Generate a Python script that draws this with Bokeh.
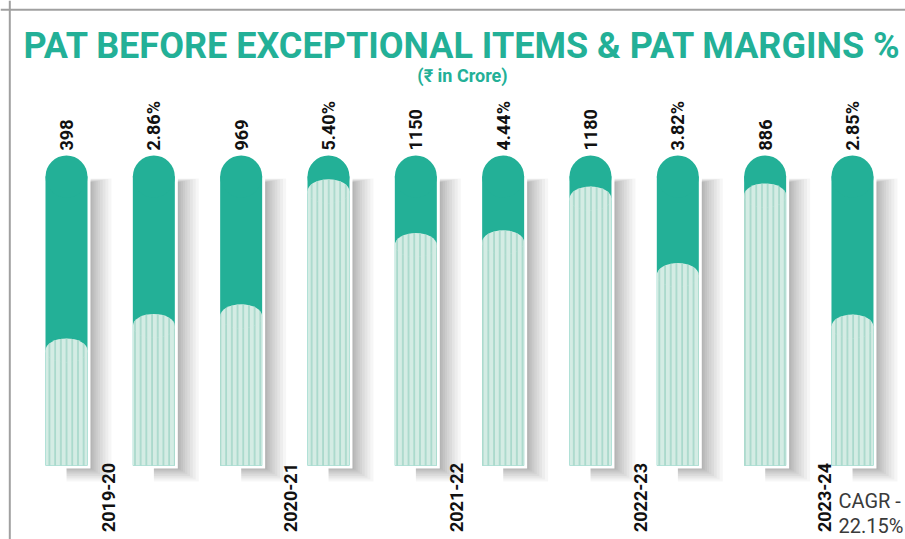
import numpy as np
from bokeh.plotting import figure
from bokeh.models import Range1d, Span
from bokeh.core.properties import value
from bokeh.embed import file_html
from bokeh.resources import INLINE

# ---------------- data ----------------
years = ["2019-20", "2020-21", "2021-22", "2022-23", "2023-24"]
pat_crore = [398, 969, 1150, 1180, 886]
pat_margin_pct = [2.86, 5.40, 4.44, 3.82, 2.85]
pat_fill_level = [41, 52, 75, 90, 91]      # fill of PAT pills (% of pill height), as drawn
margin_full_pill = 5.85                     # margin % that would fill a whole pill
cagr_pct = 22.15

# ---------------- style / layout ----------------
TEAL = "#23b097"
LIGHT = "#d4ece4"
STRIPE = "#a2d6c7"
W, H = 905, 539
OFF = 0              # page offset of the figure
PXX = 87.33          # px per pill slot
PXY = 3.1            # px per pill-height percent
X0 = -(66 - OFF) / PXX
Y0 = -(H - (465 - OFF)) / PXY

def xpx(page_x):
    return X0 + (page_x - OFF) / PXX

def ypx(page_y):
    return Y0 + (H - (page_y - OFF)) / PXY

p = figure(width=W, height=H, x_range=Range1d(X0, X0 + W / PXX),
           y_range=Range1d(Y0, Y0 + H / PXY), output_backend="svg",
           toolbar_location=None, min_border=0, x_axis_location=None,
           y_axis_location=None, outline_line_color=None)
p.grid.visible = False
p.background_fill_color = "white"
p.border_fill_color = "white"

# pill positions & levels from data
n = len(years)
xs = np.arange(2 * n, dtype=float)
levels = []
labels = []
for k in range(n):
    levels.append(pat_fill_level[k])
    levels.append(pat_margin_pct[k] / margin_full_pill * 100)
    labels.append(str(pat_crore[k]))
    labels.append(f"{pat_margin_pct[k]:.2f}%")
levels = np.array(levels)

half = 21 / PXX
cap_y = 100 - 21 / PXY

# soft shadows (to the right and below)
N = 12
for s in range(N):
    t = (s / (N - 1)) ** 1.6
    p.quad(left=xs, right=xs + (23 + 22 * t) / PXX,
           bottom=np.full_like(xs, -(2 + 14 * t) / PXY),
           top=np.full_like(xs, cap_y - (6 - 4 * t) / PXY),
           fill_color="black", fill_alpha=0.036, line_color=None)

# white outline
p.quad(left=xs - 24 / PXX, right=xs + 24 / PXX, bottom=np.full_like(xs, -3 / PXY),
       top=np.full_like(xs, cap_y), fill_color="white", line_color=None)
p.scatter(xs, np.full_like(xs, cap_y), size=48, fill_color="white", line_color=None)

# teal pill
p.quad(left=xs - half, right=xs + half, bottom=np.zeros_like(xs),
       top=np.full_like(xs, cap_y), fill_color=TEAL, line_color=None)
p.scatter(xs, np.full_like(xs, cap_y), size=42, fill_color=TEAL, line_color=None)

# light striped fill
dome = 12 / PXY
p.quad(left=xs - half, right=xs + half, bottom=np.zeros_like(xs), top=levels - dome,
       fill_color=LIGHT, line_color=None, hatch_pattern="vertical_line",
       hatch_color=STRIPE, hatch_scale=5.7, hatch_weight=1.5)
p.ellipse(x=xs, y=levels - dome, width=42, height=24, width_units="screen",
          height_units="screen", fill_color=LIGHT, line_color=None,
          hatch_pattern="vertical_line", hatch_color=STRIPE, hatch_scale=5.7,
          hatch_weight=1.5)

# value labels
p.text(x=xs, y=np.full_like(xs, 100 + 5 / PXY), text=labels, angle=np.pi / 2,
       text_align="left", text_baseline="middle", text_font=value("Roboto"),
       text_font_style="bold", text_font_size="18px", text_color="#111111")

# year labels
year_off = [0.48, 0.56, 0.47, 0.57, 0.68]
p.text(x=[2 * k + year_off[k] for k in range(n)], y=[0.8] * n, text=years,
       angle=np.pi / 2, text_align="right", text_baseline="middle",
       text_font=value("Roboto"), text_font_style="bold", text_font_size="18px",
       text_color="#111111")

# title & subtitle
p.text(x=[xpx(462)], y=[ypx(45)], text=["PAT BEFORE EXCEPTIONAL ITEMS & PAT MARGINS %"],
       text_align="center", text_baseline="alphabetic",
       text_font=value("Roboto"), text_font_style="bold",
       text_font_size="36px", text_color=TEAL)
p.text(x=[xpx(462)], y=[ypx(75)], text=["(₹ in Crore)"], text_align="center",
       text_baseline="alphabetic", text_font=value("Roboto"), text_font_style="bold",
       text_font_size="18px", text_color=TEAL)

# CAGR note
p.text(x=[xpx(838)] * 2, y=[ypx(500), ypx(525)], text=["CAGR -", f"{cagr_pct:.2f}%"],
       text_align="left", text_baseline="alphabetic", text_font=value("Roboto"),
       text_font_size="20px", text_color="#3a3a3a")

# frame border (left & top)
p.add_layout(Span(location=xpx(9.3), dimension="height", line_color="#a0a0a0", line_width=2))
p.add_layout(Span(location=ypx(9.3), dimension="width", line_color="#a0a0a0", line_width=2))

open("out.html", "w").write(file_html(p, INLINE))
